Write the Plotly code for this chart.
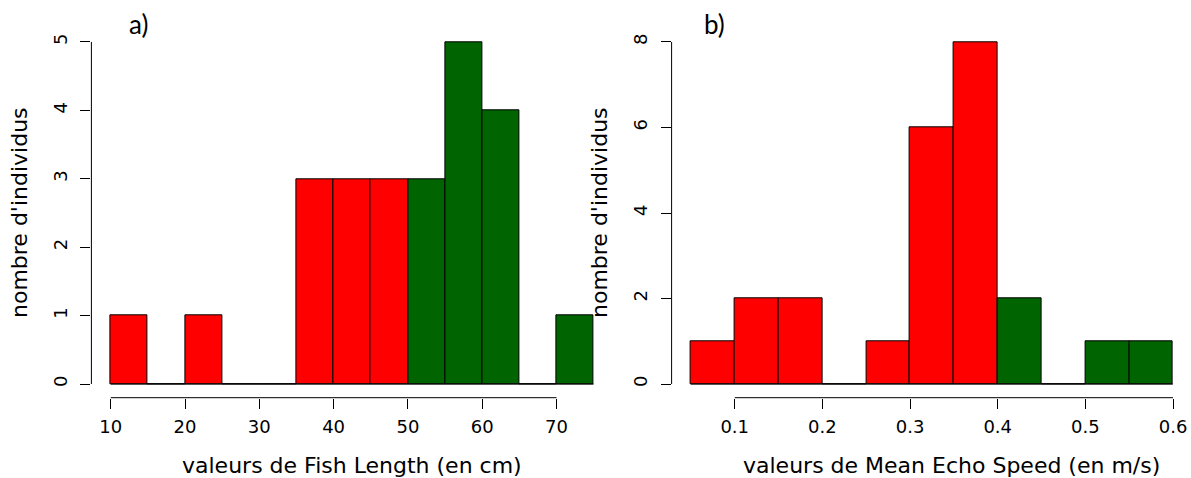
import plotly.graph_objects as go

# ---- data ----
length_breaks = [10, 15, 20, 25, 30, 35, 40, 45, 50, 55, 60, 65, 70, 75]
length_counts = [1, 0, 1, 0, 0, 3, 3, 3, 3, 5, 4, 0, 1]
length_groups = ["low"] * 8 + ["high"] * 5
length_xticks = [10, 20, 30, 40, 50, 60, 70]
length_yticks = [0, 1, 2, 3, 4, 5]

speed_breaks = [0.05, 0.10, 0.15, 0.20, 0.25, 0.30, 0.35, 0.40, 0.45, 0.50, 0.55, 0.60]
speed_counts = [1, 2, 2, 0, 1, 6, 8, 2, 0, 1, 1]
speed_groups = ["low"] * 7 + ["high"] * 4
speed_xticks = [0.1, 0.2, 0.3, 0.4, 0.5, 0.6]
speed_yticks = [0, 2, 4, 6, 8]

group_colors = {"low": "#FF0000", "high": "#006400"}

W, H = 1191, 478
TICKFONT = dict(family="DejaVu Sans, Liberation Sans, sans-serif", size=18, color="black")
TITLEFONT = dict(family="DejaVu Sans, Liberation Sans, sans-serif", size=22, color="black")
LABELFONT = dict(family="Lato, Open Sans, sans-serif", size=26, color="black")

fig = go.Figure()


def add_hist(breaks, counts, groups, xa, ya):
    mids = [(a + b) / 2 for a, b in zip(breaks[:-1], breaks[1:])]
    widths = [b - a for a, b in zip(breaks[:-1], breaks[1:])]
    fig.add_trace(go.Bar(
        x=mids, y=counts, width=widths,
        marker=dict(color=[group_colors[g] for g in groups],
                    line=dict(color="black", width=1)),
        xaxis=xa, yaxis=ya, showlegend=False, hoverinfo="x+y",
    ))
    fig.add_trace(go.Scatter(
        x=[breaks[0], breaks[-1]], y=[0, 0], mode="lines",
        line=dict(color="black", width=1),
        xaxis=xa, yaxis=ya, showlegend=False, hoverinfo="skip",
    ))


add_hist(length_breaks, length_counts, length_groups, "x", "y")
add_hist(speed_breaks, speed_counts, speed_groups, "x2", "y2")

ydom = [(H - 397.7) / H, (H - 28.3) / H]

common_x = dict(showgrid=False, zeroline=False, showline=False, ticks="outside",
                ticklen=10, tickwidth=1, tickcolor="black", tickfont=TICKFONT,
                ticklabelstandoff=3)
common_y = dict(showgrid=False, zeroline=False, showline=False, ticks="outside",
                ticklen=10, tickwidth=1, tickcolor="black", tickfont=TICKFONT,
                tickangle=-90, ticklabelstandoff=6)

fig.update_layout(
    width=W, height=H, autosize=False,
    margin=dict(l=0, r=0, t=0, b=0),
    paper_bgcolor="white", plot_bgcolor="white",
    bargap=0,
    xaxis=dict(domain=[91.4 / W, 613 / W], range=[7.4, 77.6], anchor="y",
               tickvals=length_xticks, **common_x),
    yaxis=dict(domain=ydom, range=[-0.2, 5.2], anchor="x",
               tickvals=length_yticks, **common_y),
    xaxis2=dict(domain=[671.6 / W, 1.0], range=[0.028, 0.6205], anchor="y2",
                tickvals=speed_xticks, **common_x),
    yaxis2=dict(domain=ydom, range=[-0.32, 8.32], anchor="x2",
                tickvals=speed_yticks, **common_y),
)

# R-style detached axis lines spanning the tick range
shapes = []
for xa, ya, xt, yt in [("x", "y", length_xticks, length_yticks),
                       ("x2", "y2", speed_xticks, speed_yticks)]:
    shapes.append(dict(type="line", xref=xa, yref=ya + " domain",
                       x0=min(xt), x1=max(xt), y0=0, y1=0,
                       line=dict(color="black", width=1)))
    shapes.append(dict(type="line", xref=xa + " domain", yref=ya,
                       x0=0, x1=0, y0=min(yt), y1=max(yt),
                       line=dict(color="black", width=1)))
fig.update_layout(shapes=shapes)

annotations = [
    dict(text="valeurs de Fish Length (en cm)", xref="paper", x=352 / W,
         yref="paper", y=(H - 465) / H, xanchor="center", yanchor="middle",
         showarrow=False, font=TITLEFONT),
    dict(text="valeurs de Mean Echo Speed (en m/s)", xref="paper", x=951 / W,
         yref="paper", y=(H - 465) / H, xanchor="center", yanchor="middle",
         showarrow=False, font=TITLEFONT),
    dict(text="nombre d'individus", xref="paper", x=20 / W, yref="y domain", y=0.5,
         xanchor="center", yanchor="middle", textangle=-90,
         showarrow=False, font=TITLEFONT),
    dict(text="nombre d'individus", xref="paper", x=600 / W, yref="y2 domain", y=0.5,
         xanchor="center", yanchor="middle", textangle=-90,
         showarrow=False, font=TITLEFONT),
    dict(text="a)", xref="paper", x=138 / W, yref="paper", y=(H - 24) / H,
         xanchor="center", yanchor="middle", showarrow=False, font=LABELFONT),
    dict(text="b)", xref="paper", x=714 / W, yref="paper", y=(H - 24) / H,
         xanchor="center", yanchor="middle", showarrow=False, font=LABELFONT),
]
fig.update_layout(annotations=annotations)

fig.write_html("out.html", config={"displayModeBar": False},
               post_script="document.body.style.margin='0';")
